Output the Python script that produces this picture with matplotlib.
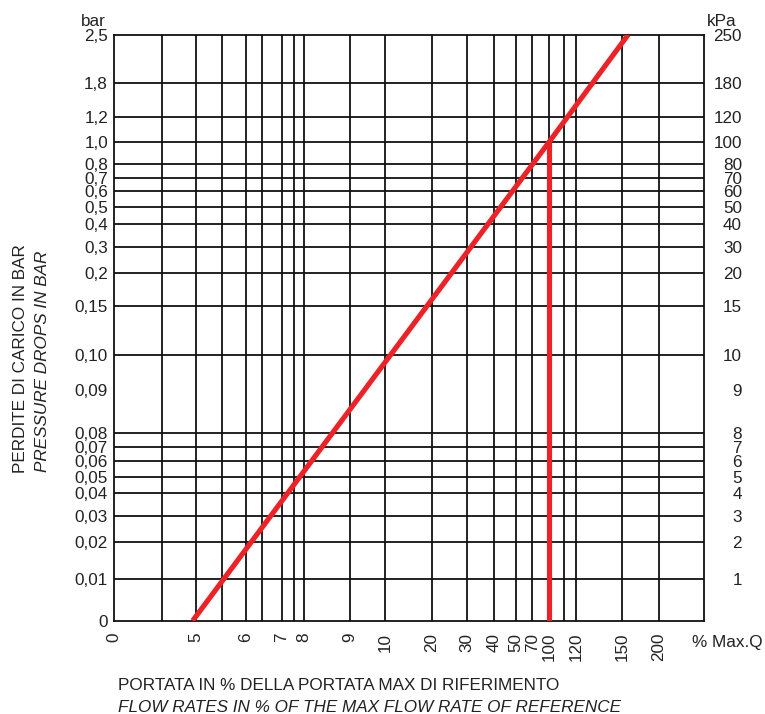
import numpy as np
import matplotlib
matplotlib.use("Agg")
import matplotlib.pyplot as plt
from matplotlib.transforms import ScaledTranslation

plt.rcParams['font.family'] = ['Liberation Sans', 'DejaVu Sans']

# ---------------- data ----------------
x_tick_values = [0, 5, 6, 7, 8, 9, 10, 20, 30, 40, 50, 70, 100, 120, 150, 200]
x_tick_labels = ['0', '5', '6', '7', '8', '9', '10', '20', '30', '40', '50', '70',
                 '100', '120', '150', '200']

y_tick_values = [0, 0.01, 0.02, 0.03, 0.04, 0.05, 0.06, 0.07, 0.08, 0.09, 0.10,
                 0.15, 0.2, 0.3, 0.4, 0.5, 0.6, 0.7, 0.8, 1.0, 1.2, 1.8, 2.5]
y_tick_labels_bar = ['0', '0,01', '0,02', '0,03', '0,04', '0,05', '0,06', '0,07',
                     '0,08', '0,09', '0,10', '0,15', '0,2', '0,3', '0,4', '0,5',
                     '0,6', '0,7', '0,8', '1,0', '1,2', '1,8', '2,5']
y_tick_labels_kpa = ['', '1', '2', '3', '4', '5', '6', '7', '8', '9', '10', '15',
                     '20', '30', '40', '50', '60', '70', '80', '100', '120', '180', '250']
y_no_gridline = [0.09]

# pressure-drop curve: flow % vs pressure drop (bar)
curve_flow = [4.8, 100, 158]
curve_dp = [0.0, 1.0, 2.5]
# reference flow marker (100 % Max.Q)
ref_flow = [100, 100]
ref_dp = [1.0, 0.0]

# ---------------- layout (nomogram geometry, pixels of 765x714 canvas) ----------------
W, H = 765, 714
x_tick_px = [114, 196, 246, 281.7, 304, 350, 385, 431.7, 467.3, 494, 515.7, 532.3,
             549.3, 576, 622.3, 658.7]
x_extra_grid_px = [161.7, 222.3, 262, 294.3, 564.3]
y_tick_px = [620.7, 579, 542.3, 515.7, 493.3, 476.7, 461, 446.7, 433.3, 390, 355,
             306, 272.7, 247.3, 224, 207.3, 190.7, 178.3, 164, 141.7, 116.7, 83.3, 34.7]
ax_left, ax_right, ax_top, ax_bottom = 114, 704, 34.7, 620.7


def piecewise(vals, pos):
    vals = np.asarray(vals, float)
    pos = np.asarray(pos, float)

    def fwd(v):
        v = np.asarray(v, float)
        out = np.interp(v, vals, pos)
        s_lo = (pos[1] - pos[0]) / (vals[1] - vals[0])
        s_hi = (pos[-1] - pos[-2]) / (vals[-1] - vals[-2])
        out = np.where(v < vals[0], pos[0] + (v - vals[0]) * s_lo, out)
        out = np.where(v > vals[-1], pos[-1] + (v - vals[-1]) * s_hi, out)
        return out

    def inv(p):
        p = np.asarray(p, float)
        out = np.interp(p, pos, vals)
        s_lo = (vals[1] - vals[0]) / (pos[1] - pos[0])
        s_hi = (vals[-1] - vals[-2]) / (pos[-1] - pos[-2])
        out = np.where(p < pos[0], vals[0] + (p - pos[0]) * s_lo, out)
        out = np.where(p > pos[-1], vals[-1] + (p - pos[-1]) * s_hi, out)
        return out
    return fwd, inv


xf, xi = piecewise(x_tick_values, x_tick_px)
yf, yi = piecewise(y_tick_values, [H - p for p in y_tick_px])

fig = plt.figure(figsize=(W / 100, H / 100), dpi=100, facecolor='white')
ax = fig.add_axes([ax_left / W, 1 - ax_bottom / H, (ax_right - ax_left) / W,
                   (ax_bottom - ax_top) / H])
ax.set_facecolor('white')
ax.set_xscale('function', functions=(xf, xi))
ax.set_yscale('function', functions=(yf, yi))
ax.set_xlim(float(xi(ax_left)), float(xi(ax_right)))
ax.set_ylim(float(yi(H - ax_bottom)), float(yi(H - ax_top)))

ink = '#111111'
grid_kw = dict(color=ink, lw=1.3, zorder=1)
for v in x_tick_values[1:]:
    ax.axvline(v, **grid_kw)
for p in x_extra_grid_px:
    ax.axvline(float(xi(p)), **grid_kw)
for v in y_tick_values[1:-1]:
    if v in y_no_gridline:
        continue
    ax.axhline(v, **grid_kw)

for s in ax.spines.values():
    s.set_linewidth(1.3)
    s.set_color(ink)
    s.set_zorder(2)

red = '#ec2227'
ax.plot(curve_flow, curve_dp, color=red, lw=3.7, solid_capstyle='butt', zorder=3)
ax.plot(ref_flow, ref_dp, color=red, lw=3.7, solid_capstyle='butt', zorder=3)

fs = 12.3
txt = '#222222'
ax.set_xticks(x_tick_values)
ax.set_xticklabels(x_tick_labels, rotation=90, fontsize=fs, color=txt)
shift = ScaledTranslation(2 / 100, 0, fig.dpi_scale_trans)
for t in ax.get_xticklabels():
    t.set_transform(t.get_transform() + shift)
ax.set_yticks(y_tick_values)
ax.set_yticklabels(y_tick_labels_bar, fontsize=fs, color=txt)
ax.tick_params(axis='x', length=0, pad=8.6)
ax.tick_params(axis='y', length=0, pad=4.3)
ax.minorticks_off()

ax2 = ax.twinx()
ax2.set_yscale('function', functions=(yf, yi))
ax2.set_ylim(ax.get_ylim())
ax2.set_yticks(y_tick_values)
ax2.set_yticklabels(y_tick_labels_kpa, fontsize=fs, color=txt)
for t in ax2.get_yticklabels():
    t.set_horizontalalignment('right')
ax2.tick_params(axis='y', length=0, pad=27.4)
ax2.minorticks_off()
for s in ax2.spines.values():
    s.set_visible(False)


def ftext(x, y, s, **kw):
    fig.text(x / W, 1 - y / H, s, fontsize=fs, color=txt, **kw)


ftext(106, 21, 'bar', ha='right', va='center')
ftext(707, 22, 'kPa', ha='left', va='center')
ftext(692, 642, '% Max.Q', ha='left', va='center')
ftext(21, 473, 'PERDITE DI CARICO IN BAR', rotation=90, ha='center', va='bottom')
ftext(43, 472, 'PRESSURE DROPS IN BAR', rotation=90, ha='center', va='bottom',
      style='italic')
ftext(118, 685, 'PORTATA IN % DELLA PORTATA MAX DI RIFERIMENTO', ha='left', va='center')
ftext(118, 707, 'FLOW RATES IN % OF THE MAX FLOW RATE OF REFERENCE', ha='left',
      va='center', style='italic')

fig.savefig('out.png', dpi=100, facecolor='white')
